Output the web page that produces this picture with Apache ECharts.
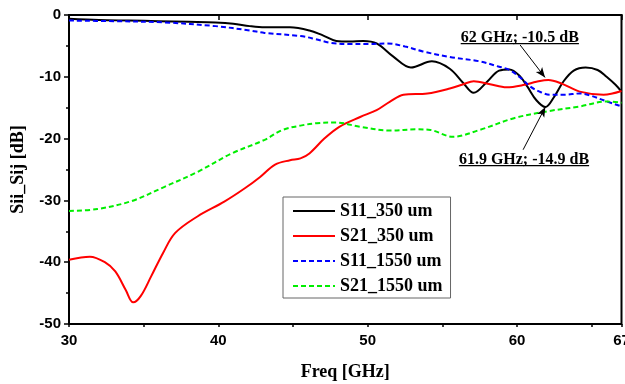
<!DOCTYPE html>
<html>
<head>
<meta charset="utf-8">
<script src="https://cdn.jsdelivr.net/npm/echarts@6/dist/echarts.min.js"></script>
<style>html,body{margin:0;padding:0;background:#fff}#main{width:625px;height:384px}</style>
</head>
<body>
<div id="main"></div>
<script>
// S11_350 um (black)
var fS11_350 = [30, 32, 34, 36, 38, 39.8, 41, 42.1, 43.1, 44.8, 46.1, 47, 47.9, 48.8, 49.7, 50.6, 51.7, 52.9, 54.3, 55.5, 56.4, 57.1, 58.0, 58.8, 59.5, 60.2, 60.7, 61.3, 61.9, 62.5, 63.1, 63.8, 64.6, 65.4, 66.0, 66.6, 67];
var vS11_350 = [-0.6, -0.8, -0.9, -1.0, -1.1, -1.2, -1.4, -1.8, -2.0, -2.0, -2.5, -3.3, -4.2, -4.3, -4.2, -4.6, -6.7, -8.5, -7.5, -8.7, -11.0, -12.6, -10.8, -9.0, -8.8, -9.9, -11.6, -13.8, -14.9, -13.2, -10.8, -9.0, -8.5, -8.9, -10.0, -11.3, -12.4];
// S21_350 um (red)
var fS21_350 = [30, 31.4, 32.4, 33.1, 33.8, 34.3, 34.8, 35.5, 36.3, 37.1, 38.6, 40.4, 41.8, 42.8, 43.8, 44.8, 45.5, 46.1, 47.1, 48.1, 49.5, 50.6, 51.5, 52.4, 54.0, 55.5, 56.4, 57.1, 58.2, 59.3, 60.5, 61.3, 62.1, 63.0, 64.2, 65.8, 67];
var vS21_350 = [-39.6, -39.1, -40.0, -41.5, -44.5, -46.5, -45.5, -42.3, -38.5, -35.3, -32.6, -30.2, -28.0, -26.2, -24.2, -23.5, -23.2, -22.4, -20.0, -18.1, -16.5, -15.4, -14.0, -12.9, -12.7, -11.9, -11.2, -10.7, -11.2, -11.7, -11.3, -10.8, -10.5, -11.1, -12.4, -12.9, -12.3];
// S11_1550 um (blue)
var fS11_1550 = [30, 33, 36.4, 39.8, 42.1, 43.1, 45.5, 46.5, 47.5, 48.8, 50, 51.3, 52.5, 53.7, 55.5, 57.5, 58.7, 59.5, 60.3, 60.9, 61.6, 62.2, 63.2, 64.2, 65.0, 65.8, 67];
var vS11_1550 = [-0.9, -1.0, -1.2, -1.8, -2.5, -2.9, -3.4, -3.9, -4.5, -4.7, -4.7, -4.6, -5.1, -5.9, -6.8, -7.5, -8.3, -8.9, -10.3, -11.6, -12.5, -12.9, -12.9, -12.7, -13.1, -13.8, -14.8];
// S21_1550 um (green)
var fS21_1550 = [30, 31.9, 34.2, 36.4, 38.6, 40.9, 43.1, 44.3, 45.5, 46.6, 47.9, 49.5, 51.5, 53.3, 54.2, 55.7, 57.5, 59.8, 62.0, 64.2, 66.0, 67];
var vS21_1550 = [-31.7, -31.4, -30.1, -27.8, -25.4, -22.4, -20.2, -18.6, -17.9, -17.5, -17.4, -18.1, -18.7, -18.5, -18.6, -19.7, -18.6, -16.7, -15.6, -14.8, -14.0, -14.2];

var xTicksMajor = 10, xTicksMinor = 5;
var yTicks = 10;

function pairs(xs, ys) {
    return xs.map(function (x, i) { return [x, ys[i]]; });
}

var serifFont = '"Liberation Serif", "DejaVu Serif", serif';
var sansFont = '"Liberation Sans", Arial, sans-serif';

var myChart = echarts.init(document.getElementById('main'));

function lineSeries(name, data, color, dashed) {
    return {
        name: name,
        type: 'line',
        data: data,
        symbol: 'none',
        smooth: 0.35,
        lineStyle: { color: color, width: 2, type: dashed ? [5, 3] : 'solid' },
        itemStyle: { color: color },
        z: 3
    };
}

var s1 = lineSeries('S11_350 um', pairs(fS11_350, vS11_350), '#000000', false);
s1.markLine = {
    silent: true,
    symbol: ['none', 'arrow'],
    symbolSize: [6, 10],
    lineStyle: { color: '#000', width: 1, type: 'solid' },
    label: { show: false },
    data: [
        [{ coord: [60.21, -4.85] }, { coord: [61.88, -10.1] }],
        [{ coord: [60.41, -21.8] }, { coord: [61.9, -14.9] }]
    ]
};

var option = {
    animation: false,
    backgroundColor: '#fff',
    grid: { left: 69, right: 3.5, top: 15, bottom: 60, outerBoundsMode: 'none', containLabel: false,
            show: true, borderColor: '#000', borderWidth: 2 },
    legend: {
        orient: 'vertical',
        left: 283,
        top: 197,
        padding: [5, 8, 3, 9],
        itemWidth: 42,
        itemHeight: 14,
        itemGap: 7,
        borderColor: '#666',
        borderWidth: 1,
        backgroundColor: '#fff',
        itemStyle: { opacity: 0 },
        textStyle: { fontFamily: serifFont, fontWeight: 'bold', fontSize: 18, color: '#000', lineHeight: 18 },
        data: ['S11_350 um', 'S21_350 um', 'S11_1550 um', 'S21_1550 um']
    },
    xAxis: [{
        type: 'value',
        min: 30, max: 67, interval: xTicksMajor,
        name: 'Freq [GHz]',
        nameLocation: 'middle',
        nameGap: 39,
        nameTextStyle: { fontFamily: serifFont, fontWeight: 'bold', fontSize: 18, color: '#000' },
        axisLine: { lineStyle: { color: '#000', width: 2 } },
        axisTick: { length: 5, lineStyle: { color: '#000', width: 1.5 } },
        axisLabel: { margin: 9, fontFamily: sansFont, fontWeight: 'bold', fontSize: 15, color: '#000' },
        splitLine: { show: false }
    }, {
        type: 'value',
        position: 'bottom',
        min: 30, max: 67, interval: xTicksMinor,
        axisLine: { show: false },
        axisTick: { length: 3, lineStyle: { color: '#000', width: 1.5 } },
        axisLabel: { show: false },
        splitLine: { show: false }
    }],
    yAxis: {
        type: 'value',
        min: -50, max: 0, interval: yTicks,
        name: 'Sii_Sij [dB]',
        nameLocation: 'middle',
        nameGap: 42,
        nameTextStyle: { fontFamily: serifFont, fontWeight: 'bold', fontSize: 18, color: '#000' },
        axisLine: { lineStyle: { color: '#000', width: 2 } },
        axisTick: { length: 5, lineStyle: { color: '#000', width: 1.5 } },
        minorTick: { show: true, splitNumber: 2, length: 3, lineStyle: { color: '#000', width: 1.5 } },
        axisLabel: { margin: 8, fontFamily: sansFont, fontWeight: 'bold', fontSize: 15, color: '#000' },
        splitLine: { show: false }
    },
    series: [
        s1,
        lineSeries('S21_350 um', pairs(fS21_350, vS21_350), '#ff0000', false),
        lineSeries('S11_1550 um', pairs(fS11_1550, vS11_1550), '#0000ff', true),
        lineSeries('S21_1550 um', pairs(fS21_1550, vS21_1550), '#00ee00', true)
    ]
};
myChart.setOption(option);

// annotations (text centre in data units)
var notes = [
    { text: '62 GHz; -10.5 dB', at: [60.19, -3.67] },
    { text: '61.9 GHz; -14.9 dB', at: [60.47, -23.4] }
];
var ctx = document.createElement('canvas').getContext('2d');
var noteFont = 'bold 16px ' + serifFont;
ctx.font = noteFont;
var g = [];
notes.forEach(function (n) {
    var p = myChart.convertToPixel({ gridIndex: 0 }, n.at);
    var w = ctx.measureText(n.text).width;
    g.push({
        type: 'text', x: p[0], y: p[1], z: 10,
        style: { text: n.text, font: noteFont, fill: '#000', align: 'center', verticalAlign: 'middle' }
    });
    g.push({
        type: 'line', z: 10,
        shape: { x1: p[0] - w / 2, y1: p[1] + 6, x2: p[0] + w / 2, y2: p[1] + 6 },
        style: { stroke: '#000', lineWidth: 1.2 }
    });
});
myChart.setOption({ graphic: g });
</script>
</body>
</html>
